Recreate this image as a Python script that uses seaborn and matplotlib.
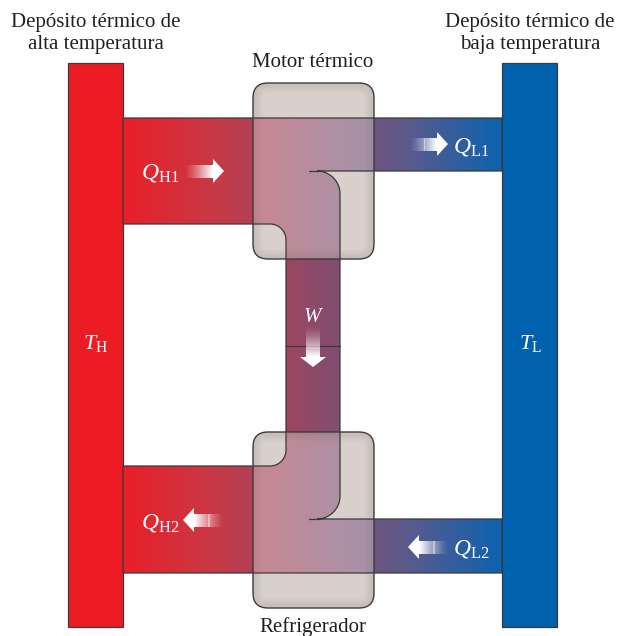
import numpy as np
import matplotlib
matplotlib.use("Agg")
import matplotlib.pyplot as plt
from matplotlib.patches import Rectangle, FancyBboxPatch, Polygon
import seaborn as sns

# text and colours of the diagram
reservoir_titles = ["Depósito térmico de\nalta temperatura",
                    "Depósito térmico de\nbaja temperatura"]
reservoir_temps = [r"$T_{\mathrm{H}}$", r"$T_{\mathrm{L}}$"]
reservoir_colors = ["#ED1C24", "#0062AE"]
device_names = ["Motor térmico", "Refrigerador"]
heat_labels = [r"$Q_{\mathrm{H1}}$", r"$Q_{\mathrm{L1}}$",
               r"$Q_{\mathrm{H2}}$", r"$Q_{\mathrm{L2}}$"]
work_label = r"$W$"
flow_colors = ["#EA1F28", "#C63A47", "#8E4A69", "#5C5A8C", "#0C62AF"]

sns.set_theme(style="white")
plt.rcParams['font.family'] = ['Liberation Serif', 'DejaVu Serif']
plt.rcParams['mathtext.fontset'] = 'custom'
plt.rcParams['mathtext.rm'] = 'Liberation Serif'
plt.rcParams['mathtext.it'] = 'Liberation Serif:italic'

TXT = "#231F20"
EDGE = "#3A3A3A"

fig = plt.figure(figsize=(6.19, 6.36), dpi=100)
ax = fig.add_axes([0, 0, 1, 1])
ax.set_xlim(0, 619)
ax.set_ylim(636, 0)
ax.axis('off')


def arc(cx, cy, r, a0, a1, n=24):
    t = np.radians(np.linspace(a0, a1, n))
    return list(zip(cx + r * np.cos(t), cy + r * np.sin(t)))


def rbox(y0, inset=0, **kw):
    return FancyBboxPatch((253 + inset, y0 + inset), 121 - 2 * inset, 176 - 2 * inset,
                          boxstyle="round,pad=0,rounding_size=%g" % max(15 - inset, 3),
                          **kw)


def fade_arrow(start, end, half_w=6.5, head_len=11, head_half=12):
    start, end = np.array(start, float), np.array(end, float)
    d = (end - start) / np.linalg.norm(end - start)
    n = np.array([-d[1], d[0]])
    base = end - d * head_len
    ax.add_patch(Polygon([base + n * head_half, end, base - n * head_half],
                         closed=True, fc='white', ec='none', zorder=6))
    steps = 28
    for i in range(steps):
        a = start + (base - start) * i / steps
        b = start + (base - start) * (i + 1.05) / steps
        quad = [a + n * half_w, b + n * half_w, b - n * half_w, a - n * half_w]
        ax.add_patch(Polygon(quad, fc='white', ec='none', antialiased=False,
                             alpha=min(1, ((i + 1) / steps) ** 1.3), zorder=6))


# reservoirs
for x0, c in zip([68, 502], reservoir_colors):
    ax.add_patch(Rectangle((x0, 63), 55, 564, fc=c, ec=EDGE, lw=0.9, zorder=1))

# box bodies (below the flow)
for y0 in [83, 432]:
    ax.add_patch(rbox(y0, fc="#D9D0CC", ec='none', zorder=1.5))

# energy flow band
band = [(123, 118), (502, 118), (502, 171), (317, 171)]
band += arc(317, 194, 23, -90, 0)
band += [(340, 496)]
band += arc(317, 496, 23, 0, 90)
band += [(502, 519), (502, 573), (123, 573), (123, 466), (270, 466)]
band += arc(270, 450, 16, 90, 0)
band += [(286, 240)]
band += arc(270, 240, 16, 0, -90)
band += [(123, 224)]

band_patch = Polygon(band, closed=True, fc='none', ec='none')
ax.add_patch(band_patch)
cmap = sns.blend_palette(flow_colors, as_cmap=True)
grad = np.linspace(0, 1, 512).reshape(1, -1)
im = ax.imshow(grad, cmap=cmap, extent=(123, 502, 573, 118),
               aspect='auto', zorder=2)
im.set_clip_path(band_patch)

# translucent box glass over the flow, inner shadow and outline
for y0 in [83, 432]:
    glass = rbox(y0, fc="#E9E0DE", ec='none', alpha=0.45, zorder=2.5)
    ax.add_patch(glass)
    glass.set_clip_path(band_patch)
    for k in range(1, 10):
        ax.add_patch(rbox(y0, k, fc='none', ec="#6E625D", lw=1.4,
                          alpha=0.11 * (1 - k / 10), zorder=3.2))
    ax.add_patch(rbox(y0, fc='none', ec=EDGE, lw=1.0, zorder=4))

# outlines of the flow
ax.add_patch(Polygon(band, closed=True, fc='none', ec=EDGE, lw=0.9, zorder=4))
for xs, ys in [((309, 318), (171, 171)), ((309, 318), (519, 519)),
               ((286, 340), (346, 346))]:
    ax.plot(xs, ys, color=EDGE, lw=0.9, zorder=4)

# arrows
fade_arrow((185, 171), (224, 171))
fade_arrow((410, 144), (448, 144))
fade_arrow((223, 520), (183, 520))
fade_arrow((448, 547), (408, 547))
fade_arrow((313, 327), (313, 367), half_w=7, head_len=10, head_half=13)

# text
for cx, title in zip([96, 530], reservoir_titles):
    for yb, line in zip([27, 49], title.split("\n")):
        ax.text(cx, yb, line, ha='center', va='baseline', fontsize=15,
                color=TXT, zorder=7)
for cx, lab in zip([96, 530], reservoir_temps):
    ax.text(cx, 349, lab, ha='center', va='baseline', fontsize=16,
            color='white', zorder=7)
for yb, name in zip([67, 632], device_names):
    ax.text(313, yb, name, ha='center', va='baseline', fontsize=15,
            color=TXT, zorder=7)
for (x, yb), lab in zip([(141, 178), (453, 152), (141, 528), (453, 555)], heat_labels):
    ax.text(x, yb, lab, ha='left', va='baseline', fontsize=17,
            color='white', zorder=7)
ax.text(313, 322, work_label, ha='center', va='baseline', fontsize=15,
        color='white', zorder=7)

fig.savefig("out.png", dpi=100, facecolor='white')
